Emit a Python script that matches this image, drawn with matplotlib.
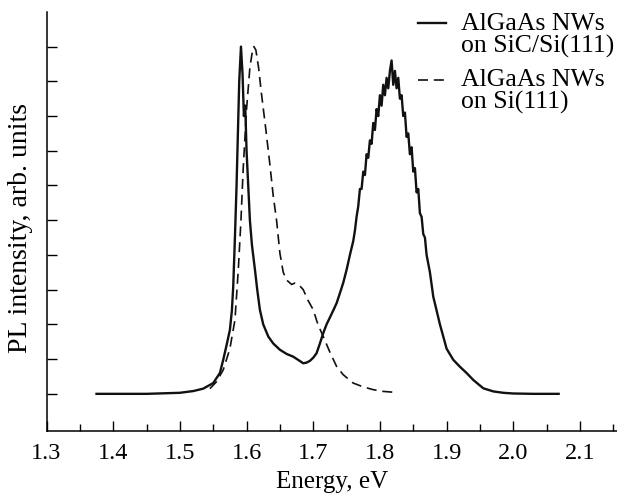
import numpy as np
import matplotlib
matplotlib.use("Agg")
import matplotlib.pyplot as plt
from matplotlib.ticker import MultipleLocator

plt.rcParams['font.family'] = ['Liberation Serif', 'DejaVu Serif']

# PL spectrum, AlGaAs NWs on SiC/Si(111) (solid)
energy_sic = [1.375, 1.40, 1.45, 1.50, 1.52, 1.535, 1.55, 1.56, 1.565, 1.57,
              1.575, 1.578, 1.580, 1.5826, 1.585, 1.587, 1.589, 1.5916, 1.594, 1.596,
              1.598, 1.600, 1.603, 1.605, 1.608, 1.6126, 1.616, 1.620, 1.625, 1.6326,
              1.640, 1.650, 1.660, 1.670, 1.678, 1.685, 1.690, 1.695, 1.700, 1.705,
              1.710, 1.715, 1.720, 1.725, 1.730, 1.735, 1.74, 1.745, 1.75, 1.755, 1.76,
              1.7625, 1.765, 1.7675, 1.770, 1.7725, 1.775, 1.7775, 1.780, 1.7825, 1.785,
              1.7875, 1.790, 1.7925, 1.795, 1.7975, 1.800, 1.8025, 1.805, 1.8075, 1.810,
              1.8125, 1.815, 1.8175, 1.820, 1.8225, 1.825, 1.8275, 1.830, 1.8325, 1.835,
              1.8375, 1.840, 1.8425, 1.845, 1.8475, 1.850, 1.8525, 1.855, 1.8575, 1.860,
              1.8625, 1.865, 1.8675, 1.870, 1.875, 1.880, 1.885, 1.890, 1.895, 1.900,
              1.910, 1.920, 1.930, 1.940, 1.955, 1.970, 1.985, 2.00, 2.03, 2.068]
pl_sic = [0.0, 0.0, 0.0, 0.003, 0.008, 0.015, 0.031, 0.06, 0.098, 0.14,
          0.184, 0.24, 0.309, 0.453, 0.60, 0.75, 0.90, 1.0, 0.92, 0.80,
          0.83, 0.70, 0.58, 0.50, 0.43, 0.357, 0.30, 0.242, 0.20, 0.165,
          0.145, 0.127, 0.115, 0.107, 0.097, 0.088, 0.090, 0.095, 0.104, 0.117,
          0.145, 0.175, 0.20, 0.22, 0.24, 0.261, 0.29, 0.32, 0.357, 0.40, 0.44,
          0.47, 0.51, 0.54, 0.59, 0.59, 0.64, 0.63, 0.69, 0.68, 0.73,
          0.72, 0.78, 0.76, 0.82, 0.80, 0.86, 0.83, 0.89, 0.86, 0.91,
          0.88, 0.93, 0.96, 0.89, 0.93, 0.88, 0.91, 0.85, 0.86, 0.80,
          0.81, 0.74, 0.75, 0.69, 0.71, 0.64, 0.65, 0.58, 0.59, 0.52,
          0.51, 0.46, 0.45, 0.40, 0.35, 0.28, 0.24, 0.20, 0.165, 0.13,
          0.098, 0.078, 0.06, 0.04, 0.016, 0.007, 0.003, 0.001, 0.0, 0.0]

# PL spectrum, AlGaAs NWs on Si(111) (dashed)
energy_si = [1.545, 1.555, 1.565, 1.575, 1.5826, 1.5876, 1.5916, 1.595, 1.600, 1.605,
             1.609, 1.611, 1.614, 1.618, 1.622, 1.629, 1.635, 1.640, 1.645, 1.650,
             1.655, 1.660, 1.6675, 1.6726, 1.678, 1.685, 1.692, 1.700, 1.707, 1.715,
             1.725, 1.735, 1.745, 1.760, 1.775, 1.790, 1.805, 1.825]
pl_si = [0.015, 0.035, 0.069, 0.13, 0.213, 0.357, 0.50, 0.65, 0.82, 0.94,
         0.99, 1.0, 0.99, 0.94, 0.87, 0.76, 0.66, 0.57, 0.50, 0.405,
         0.35, 0.328, 0.315, 0.319, 0.315, 0.30, 0.27, 0.242, 0.20, 0.165,
         0.12, 0.079, 0.055, 0.031, 0.02, 0.012, 0.007, 0.004]

labels = ["AlGaAs NWs\non SiC/Si(111)", "AlGaAs NWs\non Si(111)"]
x_ticks = [1.3, 1.4, 1.5, 1.6, 1.7, 1.8, 1.9, 2.0, 2.1]

fig = plt.figure(figsize=(6.17, 4.95), dpi=100)
ax = fig.add_axes([0.0754, 0.130, 0.924, 0.846])

ax.plot(energy_sic, pl_sic, color='#111111', lw=1.7, label=labels[0])
ax.plot(energy_si, pl_si, color='#111111', lw=1.2, linestyle=(0, (6, 3.5)), label=labels[1])

ax.set_xlim(1.3, 2.155)
ax.set_ylim(-0.106, 1.10)

ax.set_xticks(x_ticks)
ax.set_xticklabels([f"{v:.1f}" for v in x_ticks])
ax.xaxis.set_minor_locator(MultipleLocator(0.05))
ax.set_yticks(np.arange(0, 1.01, 0.1))
ax.set_yticklabels([])

ax.tick_params(axis='both', which='major', direction='in', length=7.2, width=1.0, labelsize=17.5, pad=9)
ax.tick_params(axis='x', which='minor', direction='in', length=4.8, width=1.0)
ax.tick_params(top=False, right=False)

for s in ['top', 'right']:
    ax.spines[s].set_visible(False)
for s in ['left', 'bottom']:
    ax.spines[s].set_linewidth(1.1)

ax.set_xlabel("Energy, eV", fontsize=18, labelpad=5)
ax.set_ylabel("PL intensity, arb. units", fontsize=20, labelpad=6)
ax.yaxis.set_label_coords(-0.024, 0.485)

leg = ax.legend(loc='upper right', bbox_to_anchor=(1.022, 1.035), frameon=False, fontsize=18.5,
                handlelength=1.1, handletextpad=0.55, labelspacing=0.45, borderpad=0.1)
# put each handle next to the first line of its two-line label
for t in leg.get_texts():
    t.set_linespacing(1.0)
for line in leg.get_lines():
    line.set_ydata(np.asarray(line.get_ydata()) + 8.3)

fig.savefig("out.png", dpi=100)
